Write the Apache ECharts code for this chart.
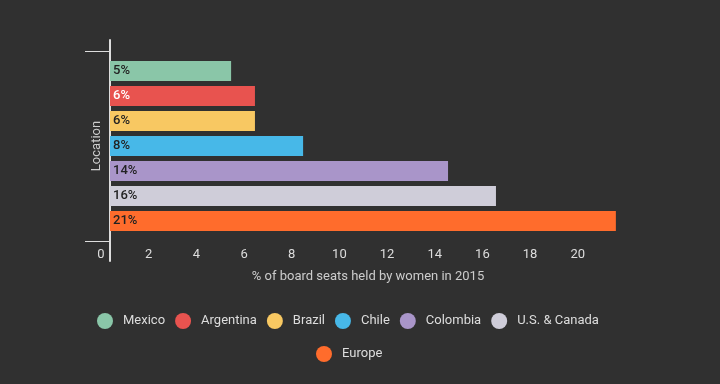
<!DOCTYPE html>
<html>
<head>
<meta charset="utf-8">
<script src="https://cdn.jsdelivr.net/npm/echarts@6/dist/echarts.min.js"></script>
<style>
html,body{margin:0;padding:0;background:#303030;}
#chart{width:720px;height:384px;}
</style>
</head>
<body>
<div id="chart"></div>
<script>
const locations = ['Mexico', 'Argentina', 'Brazil', 'Chile', 'Colombia', 'U.S. & Canada', 'Europe'];
const values = [5.08, 6.08, 6.08, 8.1, 14.18, 16.19, 21.22];
const colors = ['#8ac6a8', '#e8534f', '#f8c862', '#47b8e8', '#a995c9', '#cfcdd9', '#ff6c2c'];
const labelColors = ['#222222', '#ffffff', '#222222', '#222222', '#222222', '#222222', '#222222'];
const xTicks = [0, 2, 4, 6, 8, 10, 12, 14, 16, 18, 20];
const xMax = 22.4;
const yCategory = ['Location'];
const xName = '% of board seats held by women in 2015';
const yName = 'Location';

const chart = echarts.init(document.getElementById('chart'));
const font = 'Roboto, sans-serif';
const lightText = '#dddddd';

const series = locations.map((name, i) => ({
  name: name,
  type: 'bar',
  xAxisIndex: 1,
  yAxisIndex: 1,
  barWidth: 20,
  barGap: '25%',
  itemStyle: { color: colors[i] },
  label: {
    show: true,
    position: 'insideLeft',
    distance: 3,
    color: labelColors[i],
    fontFamily: font,
    fontSize: 13,
    fontWeight: 500,
    formatter: p => Math.round(p.value) + '%'
  },
  data: [values[i]]
}));

chart.setOption({
  backgroundColor: '#303030',
  animation: false,
  grid: [
    { left: 101, top: 40, width: 534, height: 221 },
    { left: 110, top: 51, width: 534, height: 190 }
  ],
  xAxis: [
    {
      type: 'value', gridIndex: 0, min: 0, max: xMax, offset: -20,
      axisLine: { show: false }, axisTick: { show: false }, splitLine: { show: false },
      axisLabel: { customValues: xTicks, color: lightText, fontFamily: font, fontSize: 13, margin: 7 },
      name: xName, nameLocation: 'middle', nameGap: 29,
      nameTextStyle: { color: '#cccccc', fontFamily: font, fontSize: 13 }
    },
    {
      type: 'value', gridIndex: 1, min: 0, max: xMax, show: false
    }
  ],
  yAxis: [
    {
      type: 'value', gridIndex: 0, offset: -9,
      axisLine: { show: true, lineStyle: { color: lightText, width: 2 } },
      axisTick: { show: false }, axisLabel: { show: false }, splitLine: { show: false }
    },
    {
      type: 'category', gridIndex: 1, data: yCategory,
      axisLine: { show: false },
      axisTick: { show: true, length: 25, lineStyle: { color: lightText, width: 1 } },
      axisLabel: { show: false },
      splitLine: { show: false },
      name: yName, nameLocation: 'middle', nameGap: 7,
      nameTextStyle: { color: '#cccccc', fontFamily: font, fontSize: 13 }
    }
  ],
  legend: [
    {
      data: locations.slice(0, 6), left: 92, top: 308,
      icon: 'circle', itemWidth: 16, itemHeight: 16, itemGap: 10,
      textStyle: { color: lightText, fontFamily: font, fontSize: 13, padding: [0, 0, 0, 5] }
    },
    {
      data: locations.slice(6), left: 311, top: 341,
      icon: 'circle', itemWidth: 16, itemHeight: 16, itemGap: 10,
      textStyle: { color: lightText, fontFamily: font, fontSize: 13, padding: [0, 0, 0, 5] }
    }
  ],
  series: series
});
</script>
</body>
</html>
